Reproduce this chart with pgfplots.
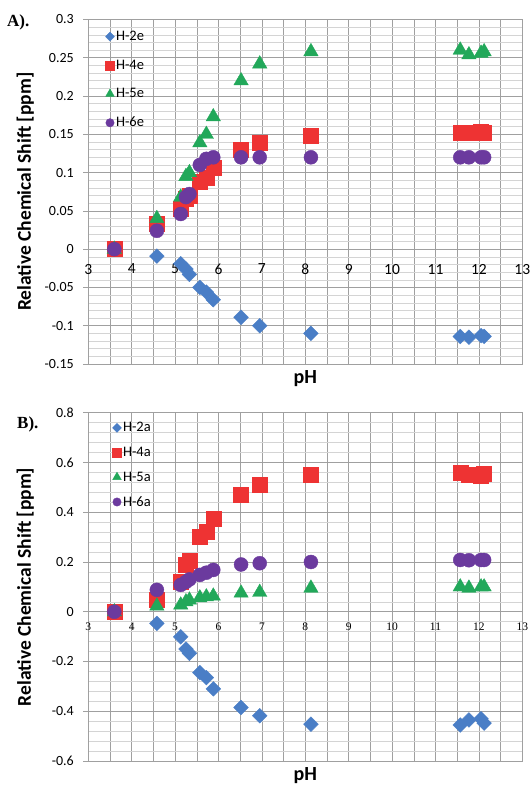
\documentclass[border=0pt]{standalone}
\usepackage{fontspec}
\setmainfont{Carlito}
\newfontfamily\labserif{Liberation Serif}
\usepackage{pgfplots}
\pgfplotsset{compat=1.18}
\definecolor{cblue}{HTML}{4A7EC6}
\definecolor{cred}{HTML}{EE3333}
\definecolor{cgreen}{HTML}{22A85A}
\definecolor{cpurple}{HTML}{6B3A9E}
\definecolor{gmaj}{HTML}{A0A0A0}
\definecolor{gmin}{HTML}{D4D4D4}

\pgfplotstableread{
ph     h2     h4     h5     h6
3.60   0.000  0.000  0.000  0.000
4.58  -0.009  0.033  0.040  0.024
5.13  -0.019  0.053  0.068  0.046
5.25  -0.026  0.066  0.095  0.068
5.33  -0.033  0.070  0.100  0.072
5.57  -0.050  0.088  0.139  0.110
5.72  -0.056  0.094  0.150  0.118
5.88  -0.066  0.106  0.173  0.120
6.52  -0.089  0.130  0.220  0.120
6.95  -0.100  0.139  0.242  0.120
8.13  -0.110  0.148  0.258  0.120
11.57 -0.114  0.152  0.260  0.120
11.77 -0.115  0.152  0.254  0.120
12.05 -0.113  0.153  0.256  0.120
12.12 -0.114  0.152  0.258  0.120
}\tabA

\pgfplotstableread{
ph     h2     h4     h5     h6
3.60   0.000  0.000  0.000  0.000
4.58  -0.047  0.047  0.023  0.088
5.13  -0.101  0.120  0.027  0.108
5.25  -0.150  0.190  0.040  0.120
5.33  -0.167  0.205  0.047  0.130
5.57  -0.245  0.303  0.056  0.148
5.72  -0.265  0.322  0.060  0.157
5.88  -0.310  0.375  0.063  0.168
6.52  -0.385  0.470  0.075  0.190
6.95  -0.418  0.510  0.078  0.195
8.13  -0.452  0.550  0.095  0.200
11.57 -0.455  0.560  0.100  0.208
11.77 -0.435  0.550  0.095  0.207
12.05 -0.430  0.548  0.100  0.208
12.12 -0.448  0.553  0.100  0.208
}\tabB

\pgfplotsset{
  rcs/.style={
    scale only axis, width=434pt,
    xmin=3, xmax=13,
    xtick={3,3.5,4,4.5,5,5.5,6,6.5,7,7.5,8,8.5,9,9.5,10,10.5,11,11.5,12,12.5,13},
    xticklabels={3,,4,,5,,6,,7,,8,,9,,10,,11,,12,,13},
    minor y tick num=4,
    grid=both,
    major grid style={gmaj, line width=0.6pt},
    minor grid style={gmin, line width=0.5pt},
    axis line style={gmaj, line width=0.6pt},
    tick pos=left, tick align=outside,
    major tick length=5pt, minor tick length=0pt,
    xtick style={draw=none},
    ytick style={gmaj, line width=0.6pt},
    /pgf/number format/assume math mode=true,
    /pgf/number format/fixed,
    yticklabel style={font=\fontsize{14}{14}\selectfont, xshift=-6pt},
    every axis y label/.style={at={(rel axis cs:0,0.5)}, xshift=-63pt, rotate=90, anchor=center,
      font=\bfseries\fontsize{19.5}{19.5}\selectfont},
    every axis x label/.style={at={(rel axis cs:0.5,0)}, anchor=north, yshift=-3pt,
      font=\bfseries\fontsize{20}{20}\selectfont},
    ylabel={Relative Chemical Shift [ppm]},
    xlabel={pH},
    legend cell align=left,
    legend image code/.code={\draw[/tikz/every mark/.append style={scale=0.6}] plot coordinates {(0pt,0pt)};},
    only marks,
  },
  s2/.style={mark=square*, mark size=5.2pt, mark options={rotate=45, fill=cblue, draw=cblue}, color=cblue},
  s4/.style={mark=square*, mark size=7.5pt, mark options={fill=cred, draw=cred}, color=cred},
  s5/.style={mark=triangle*, mark size=8.3pt, mark options={fill=cgreen, draw=cgreen}, color=cgreen},
  s6/.style={mark=*, mark size=7pt, mark options={fill=cpurple, draw=cpurple}, color=cpurple},
}

\begin{document}
\begin{tikzpicture}[x=1pt,y=1pt]
\useasboundingbox (0,0) rectangle (531,-787);

\begin{axis}[rcs,
  at={(88.3pt,-364pt)}, anchor=south west, height=344.5pt,
  ymin=-0.15, ymax=0.3,
  ytick={-0.15,-0.1,-0.05,0,0.05,0.1,0.15,0.2,0.25,0.3},
  xticklabel style={font=\fontsize{15.5}{15.5}\selectfont, anchor=north, yshift=108.5pt},
  legend style={draw=none, fill=none, at={(rel axis cs:0,1)}, anchor=north west,
    xshift=14pt, yshift=-8pt, row sep=14.8pt, font=\fontsize{14.5}{14.5}\selectfont,
    nodes={inner sep=1.5pt}},
]
\addplot[s2] table[x=ph,y=h2] {\tabA};
\addplot[s4] table[x=ph,y=h4] {\tabA};
\addplot[s5] table[x=ph,y=h5] {\tabA};
\addplot[s6] table[x=ph,y=h6] {\tabA};
\legend{H-2e,H-4e,H-5e,H-6e}
\end{axis}

\begin{axis}[rcs,
  at={(88.3pt,-761pt)}, anchor=south west, height=348.3pt,
  ymin=-0.6, ymax=0.8,
  ytick={-0.6,-0.4,-0.2,0,0.2,0.4,0.6,0.8},
  xticklabel style={font=\labserif\fontsize{11.5}{11.5}\selectfont, anchor=north, yshift=146.5pt},
  legend style={draw=none, fill=none, at={(rel axis cs:0,1)}, anchor=north west,
    xshift=21pt, yshift=-6pt, row sep=10.8pt, font=\fontsize{14.5}{14.5}\selectfont,
    nodes={inner sep=1.5pt}},
]
\addplot[s2] table[x=ph,y=h2] {\tabB};
\addplot[s4] table[x=ph,y=h4] {\tabB};
\addplot[s5] table[x=ph,y=h5] {\tabB};
\addplot[s6] table[x=ph,y=h6] {\tabB};
\legend{H-2a,H-4a,H-5a,H-6a}
\end{axis}

\node[anchor=base west, font=\labserif\bfseries\fontsize{17}{17}\selectfont, inner sep=0pt] at (7,-27) {A).};
\node[anchor=base west, font=\labserif\bfseries\fontsize{17}{17}\selectfont, inner sep=0pt] at (17,-428) {B).};
\end{tikzpicture}
\end{document}
